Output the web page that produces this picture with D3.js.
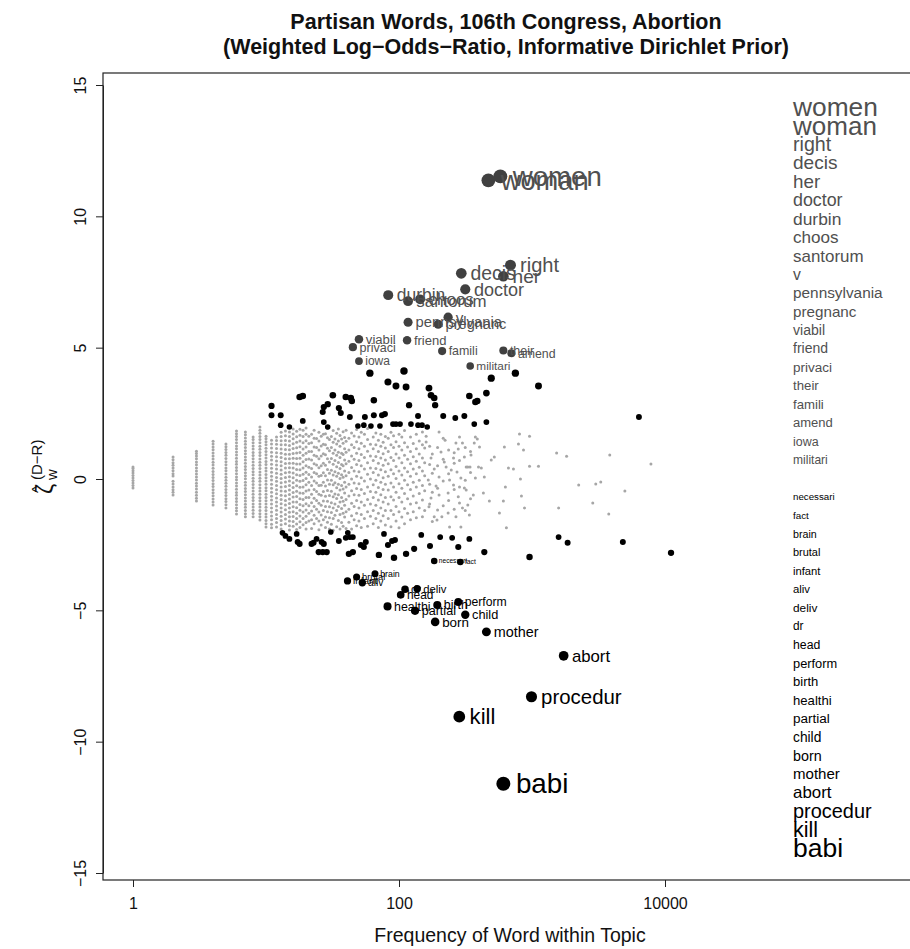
<!DOCTYPE html>
<html><head><meta charset="utf-8">
<script src="https://cdn.jsdelivr.net/npm/d3@7"></script>
<style>
body{margin:0;background:#fff;}
svg{display:block;font-family:"Liberation Sans",Arial,Helvetica,sans-serif;}
</style>
</head><body>
<svg id="chart" width="910" height="949"></svg>
<script>
// ---------------- DATA ----------------
const xTicks = [1, 100, 10000];
const yTicks = [-15, -10, -5, 0, 5, 10, 15];

// non-significant words: [frequency, list of zeta values]
const grayColumns = [
 [1, [-0.34,-0.25,-0.15,-0.06,0.04,0.13,0.23,0.31,0.4,0.46]],
 [2, [-0.61,-0.5,-0.41,-0.3,-0.19,-0.09,0.11,0.2,0.31,0.42,0.52,0.62,0.73,0.84]],
 [3, [-0.84,-0.73,-0.62,-0.5,-0.38,-0.27,-0.16,-0.04,0.08,0.19,0.3,0.42,0.54,0.65,0.77,0.88,0.97,1.06]],
 [4, [-0.99,-0.88,-0.76,-0.64,-0.52,-0.41,-0.29,-0.18,-0.06,0.06,0.17,0.29,0.41,0.53,0.64,0.76,0.88,0.99,1.11,1.22,1.33,1.44]],
 [5, [-1.1,-0.98,-0.86,-0.75,-0.63,-0.51,-0.4,-0.28,-0.16,-0.05,0.07,0.19,0.31,0.42,0.54,0.66,0.78,0.9,1.01,1.12,1.23,1.33]],
 [6, [-1.33,-1.21,-1.1,-0.98,-0.86,-0.74,-0.62,-0.51,-0.39,-0.27,-0.15,-0.03,0.08,0.2,0.32,0.44,0.56,0.67,0.79,0.91,1.03,1.15,1.26,1.38,1.5,1.62,1.72,1.83]],
 [7, [-1.44,-1.32,-1.2,-1.08,-0.96,-0.84,-0.72,-0.6,-0.48,-0.36,-0.24,-0.12,0.01,0.12,0.24,0.36,0.48,0.6,0.72,0.84,0.96,1.08,1.2,1.32,1.44,1.56,1.68,1.79]],
 [8, [-1.44,-1.31,-1.19,-1.07,-0.95,-0.82,-0.7,-0.58,-0.46,-0.33,-0.21,-0.09,0.03,0.16,0.28,0.4,0.52,0.65,0.77,0.89,1.01,1.14,1.26,1.38,1.5,1.6]],
 [9, [-1.56,-1.44,-1.32,-1.2,-1.07,-0.95,-0.83,-0.71,-0.58,-0.46,-0.34,-0.22,-0.09,0.03,0.15,0.27,0.4,0.52,0.64,0.76,0.89,1.01,1.13,1.25,1.38,1.5,1.62,1.74,1.86,1.98]],
 [10, [-1.83,-1.7,-1.58,-1.45,-1.33,-1.2,-1.08,-0.95,-0.83,-0.7,-0.58,-0.45,-0.33,-0.2,-0.08,0.05,0.17,0.3,0.42,0.55,0.67,0.8,0.92,1.05,1.17,1.3,1.42,1.53,1.63]],
 [11, [-1.86,-1.72,-1.55,-1.41,-1.26,-1.1,-0.95,-0.8,-0.66,-0.5,-0.35,-0.2,-0.04,0.1,0.26,0.41,0.56,0.72,0.87,1.02,1.18,1.33,1.48]],
 [12, [-1.83,-1.66,-1.5,-1.35,-1.19,-1.03,-0.88,-0.72,-0.56,-0.41,-0.25,-0.09,0.06,0.22,0.38,0.53,0.69,0.85,1.0,1.16,1.32,1.47,1.6]],
 [13, [-1.9,-1.74,-1.58,-1.42,-1.26,-1.1,-0.94,-0.78,-0.62,-0.46,-0.3,-0.14,0.02,0.18,0.34,0.5,0.66,0.82,0.98,1.14,1.3,1.46,1.62,1.78]],
 [14, [-1.7,-1.52,-1.35,-1.17,-0.99,-0.82,-0.64,-0.47,-0.29,-0.11,0.06,0.24,0.42,0.59,0.77,0.94,1.12,1.3,1.47,1.65,1.83]],
 [15, [-1.94,-1.78,-1.6,-1.44,-1.27,-1.1,-0.93,-0.76,-0.59,-0.42,-0.25,-0.08,0.09,0.26,0.43,0.6,0.77,0.94,1.11,1.28,1.45,1.62,1.79]],
 [16, [-1.8,-1.62,-1.43,-1.25,-1.06,-0.88,-0.69,-0.51,-0.32,-0.14,0.05,0.23,0.42,0.6,0.79,0.97,1.16,1.34,1.53,1.71,1.9]],
 [17, [-1.92,-1.71,-1.5,-1.3,-1.09,-0.88,-0.67,-0.47,-0.26,-0.05,0.16,0.36,0.57,0.78,0.99,1.19,1.4,1.61,1.82]],
 [18, [-1.85,-1.63,-1.41,-1.19,-0.97,-0.75,-0.53,-0.31,-0.09,0.13,0.35,0.57,0.79,1.01,1.23,1.45,1.67,1.89]],
 [19, [-1.74,-1.5,-1.26,-1.02,-0.78,-0.54,-0.3,-0.06,0.18,0.42,0.66,0.9,1.14,1.38,1.62,1.86]],
 [20, [-1.9,-1.66,-1.42,-1.18,-0.94,-0.7,-0.46,-0.22,0.02,0.26,0.5,0.74,0.98,1.22,1.46,1.7,1.94]],
 [21, [-1.6,-1.3,-1.02,-0.7,-0.42,-0.12,0.17,0.45,0.76,1.05,1.35,1.63]],
 [22, [-1.88,-1.55,-1.22,-0.9,-0.58,-0.25,0.08,0.4,0.72,1.05,1.38,1.7]],
 [23, [-1.7,-1.38,-1.05,-0.73,-0.4,-0.08,0.25,0.58,0.9,1.22,1.55,1.86]],
 [24, [-1.5,-1.15,-0.82,-0.48,-0.15,0.2,0.53,0.87,1.2,1.54]],
 [25, [-1.93,-1.6,-1.26,-0.92,-0.58,-0.25,0.1,0.43,0.77,1.1,1.45,1.78]],
 [26, [-1.75,-1.37,-1.0,-0.62,-0.24,0.13,0.5,0.88,1.26,1.63]],
 [27, [-1.55,-1.2,-0.84,-0.48,-0.12,0.24,0.6,0.96,1.32,1.7]],
 [28, [-1.85,-1.45,-1.05,-0.66,-0.27,0.12,0.52,0.92,1.3,1.72]],
 [29, [-1.65,-1.25,-0.85,-0.44,-0.04,0.36,0.77,1.17,1.57,1.92]],
 [30, [-1.9,-1.48,-1.06,-0.63,-0.2,0.22,0.65,1.08,1.5]],
 [31, [-1.72,-1.28,-0.9,-0.47,-0.05,0.33,0.78,1.2,1.62]],
 [32, [-1.95,-1.5,-1.1,-0.68,-0.22,0.15,0.56,0.98,1.4,1.85]],
 [33, [-1.38,-0.95,-0.57,-0.14,0.28,0.7,1.1,1.52]],
 [34, [-1.82,-1.2,-0.74,-0.33,0.1,0.47,0.9,1.33,1.74]],
 [35, [-1.58,-1.05,-0.6,-0.2,0.22,0.63,1.02,1.45,1.9]],
 [36, [-1.9,-1.35,-0.88,-0.42,0.02,0.4,0.82,1.25,1.66]],
 [37, [-1.66,-1.12,-0.7,-0.25,0.16,0.55,0.98,1.52]],
 [38, [-1.8,-1.3,-0.85,-0.38,0.07,0.5,0.93,1.36,1.8]],
 [39, [-1.45,-1.0,-0.53,-0.12,0.3,0.72,1.15,1.58]],
 [40, [-1.88,-1.25,-0.78,-0.3,0.12,0.58,1.02,1.44,1.86]],
 [42, [-1.65,-1.15,-0.65,-0.2,0.25,0.68,1.1,1.55]],
 [44, [-1.9,-1.4,-0.92,-0.45,0.0,0.44,0.88,1.3,1.75]],
 [46, [-1.55,-1.05,-0.6,-0.15,0.3,0.75,1.2,1.64]],
 [48, [-1.78,-1.3,-0.82,-0.36,0.1,0.55,0.98,1.42,1.88]],
 [50, [-1.6,-1.1,-0.62,-0.18,0.28,0.7,1.15,1.6]],
 [52, [-1.85,-1.35,-0.88,-0.4,0.05,0.5,0.93,1.36,1.78]],
 [55, [-1.5,-1.0,-0.55,-0.08,0.38,0.82,1.25,1.7]],
 [58, [-1.8,-1.25,-0.78,-0.3,0.18,0.62,1.06,1.5,1.92]],
 [61, [-1.42,-0.95,-0.48,0.0,0.42,0.88,1.32]],
 [64, [-1.7,-1.2,-0.7,-0.22,0.25,0.7,1.15,1.6]],
 [67, [-1.5,-1.0,-0.5,-0.05,0.4,0.86,1.3,1.75]],
 [70, [-1.85,-1.3,-0.8,-0.32,0.15,0.6,1.05,1.48]],
 [73, [-1.6,-1.1,-0.6,-0.12,0.35,0.8,1.25,1.7]],
 [76, [-1.4,-0.88,-0.4,0.05,0.52,0.96,1.4]],
 [79, [-1.75,-1.2,-0.7,-0.2,0.28,0.72,1.18,1.62]],
 [83, [-1.5,-0.95,-0.42,0.1,0.58,1.05,1.55]],
 [87, [-1.82,-1.2,-0.68,-0.15,0.35,0.82,1.3,1.78]],
 [91, [-1.35,-0.8,-0.3,0.2,0.7,1.2,1.65]],
 [95, [-1.6,-1.05,-0.5,0.02,0.48,0.95,1.42]],
 [100, [-1.86,-1.25,-0.7,-0.18,0.3,0.8,1.25,1.7]],
 [105, [-1.45,-0.88,-0.35,0.15,0.62,1.1,1.6]],
 [110, [-1.7,-1.12,-0.55,-0.05,0.42,0.9,1.38,1.85]],
 [116, [-1.3,-0.75,-0.22,0.28,0.75,1.22]],
 [122, [-1.55,-0.95,-0.4,0.1,0.58,1.05,1.6]],
 [128, [-1.25,-0.65,-0.12,0.38,0.85,1.35]],
 [135, [-1.48,-0.9,-0.3,0.2,0.68,1.15,1.7]],
 [142, [-1.1,-0.55,-0.05,0.45,0.95,1.45]],
 [150, [-1.44,-0.8,-0.25,0.3,0.8,1.3,1.79]],
 [156, [-1.2,-0.45,0.12,0.62,1.18]],
 [170, [-0.95,-0.2,0.55,1.25]],
 [178, [-1.62,-0.5,0.22,0.95]],
 [195, [-1.18,-0.35,0.5,1.2]],
 [215, [-1.02,-0.08,0.75,1.55]],
 [236, [-0.82,0.2,1.1]],
 [260, [-1.15,-0.4,0.6,1.0]],
 [285, [-0.3,0.7,1.6]],
 [315, [-1.2,-0.05,1.2]],
 [345, [-0.75,0.25,1.05]]
];

// sparse non-significant words at higher frequency: [frequency, zeta]
const grayScatter = [
 [160,1.63],[160,1.41],[200,1.79],[268,1.37],[300,1.37],[368,1.37],[375,1.6],[388,1.52],
 [279,1.14],[310,0.84],[257,0.8],[219,0.65],[174,0.8],[184,0.38],[226,0.46],[240,-0.04],
 [200,0.08],[166,-0.04],[174,-0.72],[200,-0.61],[234,-0.53],[279,-0.68],[310,-0.34],[292,0.04],
 [247,0.34],[329,0.46],[396,0.46],[292,-1.83],[240,-1.83],[329,-0.99],[285,-0.91],[300,-1.1],
 [268,-1.44],[234,-1.29],[210,-1.44],[184,-1.44],[193,-1.56],[342,0.46],[320,0.46],[375,0.04],
 [207,1.03],[257,-0.23],[348,0.91],[320,-0.42],[168,-1.06],[338,-1.37],[403,1.22],[190,-0.27],
 [222,1.48],[273,0.27],[362,-0.61],
 [431,-0.53],[438,0.08],[416,0.42],[478,-0.84],[494,0.72],[521,0.84],[569,-1.29],[609,-0.84],
 [620,1.22],[631,-0.3],[642,-1.86],[665,0.42],[725,0.38],[791,1.33],[805,1.71],[819,0.0],
 [833,-0.65],[863,1.1],[878,-1.1],[958,1.63],[958,0.49],[1119,0.49],[1531,0.99],[1585,-1.1],
 [1820,0.87],[2244,-0.23],[2864,-0.91],[3016,-0.19],[3289,-0.11],[3777,-1.33],[3843,0.91],
 [4990,-0.46],[7839,0.57]
];

// significant words that are not labelled: [frequency, zeta]
const blackPoints = [
 [11.0,2.78],[11.0,2.43],[12.9,2.43],[12.9,2.05],[15.0,1.98],[17.9,3.12],[18.9,3.16],[18.9,2.21],
 [27.2,2.74],[29.1,2.85],[26.7,2.55],[31.8,3.19],[35.3,2.70],[36.5,2.51],[27.2,2.17],[29.1,1.98],
 [39.8,3.12],[43.4,3.08],[44.2,2.97],[42.7,2.36],[49.1,2.02],[54.4,2.05],[55.4,2.36],[61.5,2.02],
 [64.7,3.0],[64.7,2.43],[74.5,2.43],[78.4,2.47],[71.9,2.02],[82.6,3.69],[94.9,3.54],[90.1,2.09],
 [94.9,2.09],[101.8,2.09],[113,3.50],[119,2.81],[123,2.09],[139,2.05],[149,2.05],[163,1.98],
 [168,3.46],[174,3.19],[184,3.08],[187,2.81],[139,2.40],[215,2.40],[265,2.32],[310,2.40],
 [338,3.16],[375,2.93],[388,2.97],[454,3.27],[368,2.09],[454,2.17],[1119,3.54],[6368,2.36],
 [60.4,4.03],[109,4.11],[494,3.84],[750,4.03],
 [13.3,-2.05],[14.0,-2.17],[15.0,-2.28],[17.0,-2.09],[17.3,-2.40],[17.9,-2.47],[22.0,-2.47],
 [22.8,-2.43],[24.0,-2.28],[26.2,-2.40],[27.2,-2.47],[24.9,-2.78],[26.7,-2.78],[28.6,-2.78],
 [30.7,-2.02],[35.3,-2.36],[39.8,-2.24],[41.2,-2.05],[42.7,-2.21],[45.0,-2.21],[42.0,-2.85],
 [45.0,-2.78],[51.7,-2.51],[56.3,-2.40],[54.4,-2.59],[70.6,-2.89],[77.1,-2.09],[82.6,-2.51],
 [88.6,-2.36],[93.3,-2.32],[91.7,-3.0],[113,-2.85],[130,-2.66],[147,-2.13],[171,-2.55],
 [204,-2.21],[251,-2.24],[279,-2.59],[338,-2.28],[438,-2.78],[958,-2.97],[1585,-2.21],
 [1853,-2.43],[4820,-2.40],[11100,-2.81]
];

// top Democratic words
const demWords = ["women","woman","right","decis","her","doctor","durbin","choos","santorum","v",
 "pennsylvania","pregnanc","viabil","friend","privaci","their","famili","amend","iowa","militari"];
const demFreq = [578,470,689,294,609,315,83,144,117,234,117,197,50,115,45,609,211,700,50,343];
const demZeta = [11.52,11.37,8.14,7.83,7.72,7.22,7.0,6.84,6.77,6.16,5.97,5.89,5.32,5.28,5.02,4.89,4.87,4.79,4.49,4.3];

// top Republican words
const repWords = ["necessari","fact","brain","brutal","infant","aliv","deliv","dr","head","perform",
 "birth","healthi","partial","child","born","mother","abort","procedur","kill","babi"];
const repFreq = [184,289,66,48,41,53,137,111,103,279,194,82,132,315,187,454,1730,991,284,609];
const repZeta = [-3.12,-3.16,-3.61,-3.73,-3.88,-3.95,-4.18,-4.2,-4.41,-4.68,-4.8,-4.85,-5.02,-5.17,-5.44,-5.82,-6.73,-8.29,-9.05,-11.6];

// ---------------- CHART ----------------
const svg = d3.select("#chart");
const x = d3.scaleLog().domain([1, 10000]).range([133, 665]);
const y = d3.scaleLinear().domain([-15, 15]).range([873, 85]);
const box = {left: 103, top: 73, right: 913, bottom: 880};

const grayData = [];
grayColumns.forEach(([f, zs]) => zs.forEach(z => grayData.push({f, z})));
grayScatter.forEach(([f, z]) => grayData.push({f, z}));

const blackData = blackPoints.map(([f, z]) => ({f, z}));
const dem = demWords.map((w, i) => ({word: w, f: demFreq[i], z: demZeta[i], party: "D"}));
const rep = repWords.map((w, i) => ({word: w, f: repFreq[i], z: repZeta[i], party: "R"}));
const labelled = dem.concat(rep);

const rScale = d3.scaleLinear().domain([2, 11.6]).range([2.8, 7]);
const labelSize = d3.scaleLinear().domain([3.1, 4.3, 5.2, 7.2, 11.6]).range([6.5, 11.8, 12.8, 18, 27.8]);
const listSize = d3.scaleLinear().domain([3, 11.6]).range([9.5, 26.5]);
const demColor = "#404040", demText = "#505050", repColor = "#000";

// title
const title = svg.append("g").attr("font-weight", "bold").attr("font-size", 21.5).attr("text-anchor", "middle").attr("fill", "#111");
title.append("text").attr("x", 506).attr("y", 29).text("Partisan Words, 106th Congress, Abortion");
title.append("text").attr("x", 506).attr("y", 54).text("(Weighted Log\u2212Odds\u2212Ratio, Informative Dirichlet Prior)");

// gray points
svg.append("g").selectAll("circle").data(grayData).join("circle")
  .attr("cx", d => x(d.f)).attr("cy", d => y(d.z)).attr("r", 1.5).attr("fill", "#a6a6a6");

// black points
svg.append("g").selectAll("circle").data(blackData).join("circle")
  .attr("cx", d => x(d.f)).attr("cy", d => y(d.z)).attr("r", d => rScale(Math.abs(d.z))).attr("fill", "#000");

// labelled points
svg.append("g").selectAll("circle").data(labelled).join("circle")
  .attr("cx", d => x(d.f)).attr("cy", d => y(d.z)).attr("r", d => rScale(Math.abs(d.z)))
  .attr("fill", d => d.party === "D" ? demColor : repColor);

svg.append("g").selectAll("text").data(labelled).join("text")
  .attr("x", d => x(d.f) + rScale(Math.abs(d.z)) + 0.2 * labelSize(Math.abs(d.z)))
  .attr("y", d => y(d.z)).attr("dy", "0.35em")
  .attr("font-size", d => labelSize(Math.abs(d.z)))
  .attr("fill", d => d.party === "D" ? demText : repColor)
  .text(d => d.word);

// word lists on the right
const demSorted = dem.slice().sort((a, b) => b.z - a.z);
const repSorted = rep.slice().sort((a, b) => b.z - a.z);
const demY = d3.scaleLinear().domain([0, demSorted.length - 1]).range([107, 460]);
const repY = d3.scaleLinear().domain([0, repSorted.length - 1]).range([497, 848]);
svg.append("g").selectAll("text").data(demSorted).join("text")
  .attr("x", 793).attr("y", (d, i) => demY(i)).attr("dy", "0.35em")
  .attr("font-size", d => listSize(Math.abs(d.z))).attr("fill", demText).text(d => d.word);
svg.append("g").selectAll("text").data(repSorted).join("text")
  .attr("x", 793).attr("y", (d, i) => repY(i)).attr("dy", "0.35em")
  .attr("font-size", d => listSize(Math.abs(d.z))).attr("fill", repColor).text(d => d.word);

// box
svg.append("rect").attr("x", box.left).attr("y", box.top)
  .attr("width", box.right - box.left).attr("height", box.bottom - box.top)
  .attr("fill", "none").attr("stroke", "#222").attr("stroke-width", 1.2);

// axes
const yAxis = svg.append("g").attr("transform", `translate(${box.left},0)`)
  .call(d3.axisLeft(y).tickValues(yTicks).tickSize(7).tickSizeOuter(0).tickFormat(d => d < 0 ? "\u2212" + Math.abs(d) : d));
yAxis.select(".domain").attr("stroke", "#222");
yAxis.selectAll(".tick line").attr("stroke", "#222");
yAxis.selectAll(".tick text").attr("transform", "rotate(-90)").attr("x", 0).attr("y", -17).attr("dy", 0)
  .attr("text-anchor", "middle").attr("font-size", 16).attr("fill", "#111")
  .attr("font-family", "Liberation Sans, Arial, sans-serif");

const xAxis = svg.append("g").attr("transform", `translate(0,${box.bottom})`)
  .call(d3.axisBottom(x).tickValues(xTicks).tickSize(7).tickSizeOuter(0).tickFormat(d3.format("d")));
xAxis.select(".domain").remove();
xAxis.selectAll(".tick line").attr("stroke", "#222");
xAxis.selectAll(".tick text").attr("y", 29).attr("dy", 0).attr("font-size", 16).attr("fill", "#111")
  .attr("font-family", "Liberation Sans, Arial, sans-serif");

svg.append("text").attr("x", 510).attr("y", 942).attr("text-anchor", "middle")
  .attr("font-size", 19.5).attr("fill", "#111").text("Frequency of Word within Topic");

// y axis label: zeta-hat_w^(D-R)
const yl = svg.append("g").attr("transform", "translate(53,494) rotate(-90)").attr("fill", "#111");
yl.append("text").attr("x", 0).attr("y", 0).attr("font-size", 23).text("\u03B6");
yl.append("text").attr("x", 1).attr("y", -9).attr("font-size", 16).text("^");
yl.append("text").attr("x", 14).attr("y", 4).attr("font-size", 15).text("w");
yl.append("text").attr("x", 14).attr("y", -11).attr("font-size", 15).text("(D\u2212R)");
</script>
</body></html>
